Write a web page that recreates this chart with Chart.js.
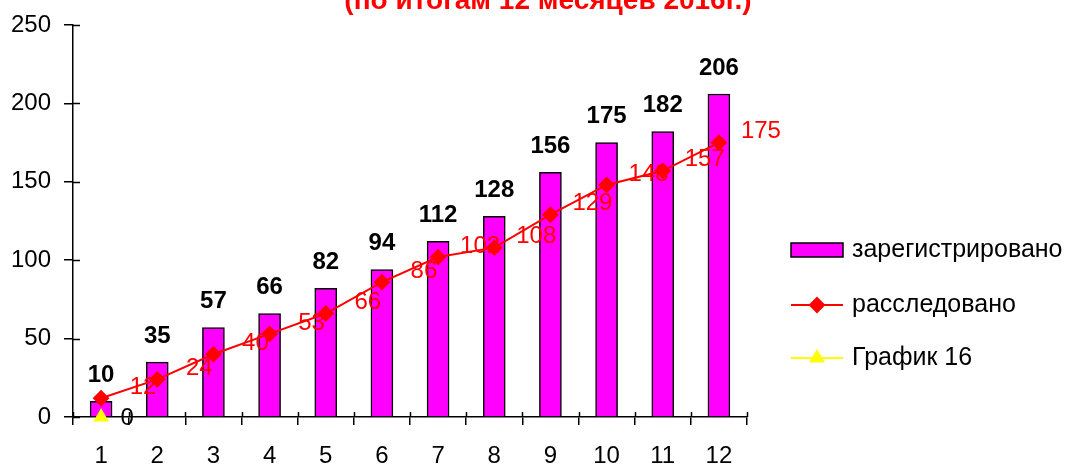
<!DOCTYPE html>
<html>
<head>
<meta charset="utf-8">
<script src="https://cdn.jsdelivr.net/npm/chart.js@4"></script>
<style>
  html, body { margin: 0; padding: 0; background: #fff; }
  #wrap { width: 1067px; height: 466px; }
</style>
</head>
<body>
<div id="wrap"><canvas id="chart" width="1067" height="466"></canvas></div>
<script>
(function(){
    'use strict'

    var months = ['1','2','3','4','5','6','7','8','9','10','11','12'];
    var registered = [10, 35, 57, 66, 82, 94, 112, 128, 156, 175, 182, 206];
    var investigated = [12, 24, 40, 53, 66, 86, 102, 108, 129, 148, 157, 175];
    var graph16 = [0, null, null, null, null, null, null, null, null, null, null, null];
    var yTicks = [0, 50, 100, 150, 200, 250];

    var titleText = '(по итогам 12 месяцев 2016г.)';
    var FONT = '"Liberation Sans", Arial, sans-serif';

    Chart.defaults.font.family = FONT;
    Chart.defaults.color = '#000';

    // title sits half outside the picture, like the source
    var titlePlugin = {
        id: 'cutTitle',
        afterDraw: function(chart){
            var ctx = chart.ctx;
            ctx.save();
            ctx.fillStyle = '#ff0000';
            ctx.font = 'bold 28px ' + FONT;
            ctx.textAlign = 'center';
            ctx.textBaseline = 'alphabetic';
            ctx.fillText(titleText, 548, 9);
            ctx.restore();
        }
    };

    // tick marks cross the axes
    var innerTicks = {
        id: 'innerTicks',
        afterDraw: function(chart){
            var ctx = chart.ctx;
            var x = chart.scales.x, y = chart.scales.y;
            ctx.save();
            ctx.strokeStyle = '#000';
            ctx.lineWidth = 1.5;
            ctx.beginPath();
            yTicks.forEach(function(v){
                var py = Math.round(y.getPixelForValue(v)) + 0.5;
                ctx.moveTo(x.left, py);
                ctx.lineTo(x.left + 7, py);
            });
            var step = (x.right - x.left) / months.length;
            for (var i = 0; i <= months.length; i++) {
                var px = Math.round(x.left + i * step) + 0.5;
                ctx.moveTo(px, y.bottom);
                ctx.lineTo(px, y.bottom - 5);
            }
            ctx.stroke();
            ctx.restore();
        }
    };

    var valueLabels = {
        id: 'valueLabels',
        afterDatasetsDraw: function(chart){
            var ctx = chart.ctx;
            ctx.save();
            ctx.textAlign = 'center';
            ctx.textBaseline = 'middle';

            chart.getDatasetMeta(0).data.forEach(function(bar, i){
                ctx.fillStyle = '#000';
                ctx.font = 'bold 24px ' + FONT;
                ctx.fillText(String(registered[i]), bar.x, bar.y - 26);
            });
            chart.getDatasetMeta(1).data.forEach(function(pt, i){
                ctx.fillStyle = '#ff0000';
                ctx.font = '24px ' + FONT;
                ctx.fillText(String(investigated[i]), pt.x + 42, pt.y - 11);
            });
            chart.getDatasetMeta(2).data.forEach(function(pt, i){
                if (graph16[i] === null) return;
                ctx.fillStyle = '#000';
                ctx.font = '24px ' + FONT;
                ctx.fillText(String(graph16[i]), pt.x + 26, pt.y + 1);
            });
            ctx.restore();
        }
    };

    var sideLegend = {
        id: 'sideLegend',
        afterDraw: function(chart){
            var ctx = chart.ctx;
            var rows = [250, 305, 358];
            var x0 = 791, x1 = 843, tx = 852;
            ctx.save();
            chart.data.datasets.forEach(function(ds, i){
                var cy = rows[i];
                if (ds.type === 'bar') {
                    ctx.fillStyle = ds.backgroundColor;
                    ctx.fillRect(x0, cy - 7, x1 - x0, 14);
                    ctx.strokeStyle = '#000';
                    ctx.lineWidth = 1.5;
                    ctx.strokeRect(x0, cy - 7, x1 - x0, 14);
                } else {
                    ctx.strokeStyle = ds.borderColor;
                    ctx.lineWidth = 2;
                    ctx.beginPath();
                    ctx.moveTo(x0, cy);
                    ctx.lineTo(x1, cy);
                    ctx.stroke();
                    ctx.fillStyle = ds.pointBackgroundColor;
                    ctx.strokeStyle = ds.pointBorderColor;
                    Chart.helpers.drawPoint(ctx, {
                        pointStyle: ds.pointStyle,
                        radius: ds.pointRadius,
                        rotation: 0,
                        borderWidth: 1
                    }, (x0 + x1) / 2, cy);
                }
                ctx.fillStyle = '#000';
                ctx.font = '25px ' + FONT;
                ctx.textAlign = 'left';
                ctx.textBaseline = 'middle';
                ctx.fillText(ds.label, tx, cy);
            });
            ctx.restore();
        }
    };

    var ctx = document.getElementById('chart');
    new Chart(ctx, {
        data: {
            labels: months,
            datasets: [{
                type: 'bar',
                label: 'зарегистрировано',
                data: registered,
                backgroundColor: '#ff00ff',
                borderColor: '#000',
                borderWidth: 1.5,
                barThickness: 22,
                order: 3
            }, {
                type: 'line',
                label: 'расследовано',
                data: investigated,
                borderColor: '#ff0000',
                backgroundColor: '#ff0000',
                borderWidth: 2,
                pointStyle: 'rectRot',
                pointRadius: 7,
                pointBackgroundColor: '#ff0000',
                pointBorderColor: '#ff0000',
                tension: 0,
                clip: false,
                order: 2
            }, {
                type: 'line',
                label: 'График 16',
                data: graph16,
                borderColor: '#ffff00',
                backgroundColor: '#ffff00',
                borderWidth: 2,
                pointStyle: 'triangle',
                pointRadius: 7,
                pointBackgroundColor: '#ffff00',
                pointBorderColor: '#ffff00',
                clip: false,
                order: 1
            }]
        },
        options: {
            responsive: false,
            animation: false,
            events: [],
            layout: {
                padding: { left: 11, right: 320, top: 25, bottom: 0 }
            },
            plugins: {
                legend: { display: false },
                title: { display: false },
                tooltip: { enabled: false }
            },
            scales: {
                x: {
                    offset: true,
                    afterFit: function(scale){ scale.height = 49; },
                    grid: {
                        offset: true,
                        drawOnChartArea: false,
                        drawTicks: true,
                        tickLength: 8,
                        color: '#000',
                        lineWidth: 1.5
                    },
                    border: { color: '#000', width: 1.5 },
                    ticks: {
                        padding: 19,
                        font: { size: 24, lineHeight: 1 },
                        color: '#000',
                        maxRotation: 0
                    }
                },
                y: {
                    min: 0,
                    max: 250,
                    afterFit: function(scale){ scale.width = 62; },
                    afterBuildTicks: function(scale){
                        scale.ticks = yTicks.map(function(v){ return { value: v }; });
                    },
                    grid: {
                        drawOnChartArea: false,
                        drawTicks: true,
                        tickLength: 9,
                        color: '#000',
                        lineWidth: 1.5
                    },
                    border: { color: '#000', width: 1.5 },
                    ticks: {
                        padding: 13,
                        font: { size: 24, lineHeight: 1 },
                        color: '#000'
                    }
                }
            }
        },
        plugins: [titlePlugin, innerTicks, valueLabels, sideLegend]
    });
})();
</script>
</body>
</html>
